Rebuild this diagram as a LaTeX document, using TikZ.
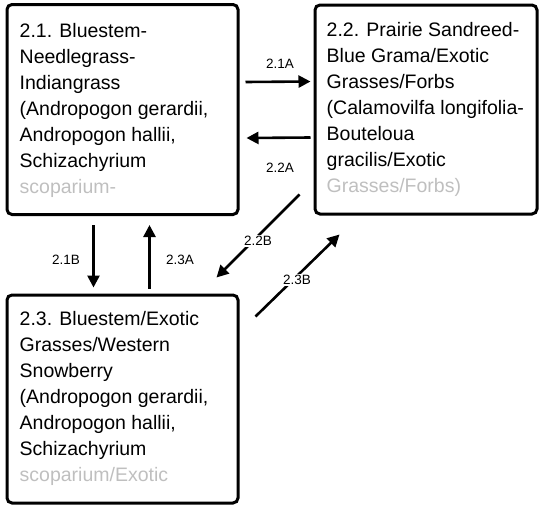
\documentclass[tikz,border=0pt]{standalone}
\usepackage{fontspec}
\setmainfont{Liberation Sans}
\usetikzlibrary{arrows.meta,calc}
\begin{document}
\begin{tikzpicture}[x=1pt,y=-1pt,
  box/.style={draw,line width=3pt,rounded corners=5pt,inner sep=0pt},
  boxtext/.style={anchor=base west,align=left,inner sep=0pt,font=\fontsize{19.5}{26}\selectfont},
  arr/.style={line width=2.6pt,-{Triangle[length=12pt,width=12pt]}},
  lab/.style={font=\fontsize{13.5}{16}\selectfont,inner sep=1.5pt,fill=white}
]
\useasboundingbox (0,0) rectangle (543,506);
\node[box,minimum width=231pt,minimum height=210pt] (b21) at (122.5,109.5) {};
\node[box,minimum width=222pt,minimum height=209pt] (b22) at (426,109.5) {};
\node[box,minimum width=231pt,minimum height=208pt] (b23) at (122.5,399) {};

\node[boxtext] (t21) at ($(b21.north west)+(14,190)$) {2.1. Bluestem-\\Needlegrass-\\Indiangrass\\(Andropogon gerardii,\\Andropogon hallii,\\Schizachyrium\\\textcolor{black!25}{scoparium-}};
\node[boxtext] (t22) at ($(b22.north west)+(13,189)$) {2.2. Prairie Sandreed-\\Blue Grama/Exotic\\Grasses/Forbs\\(Calamovilfa longifolia-\\Bouteloua\\gracilis/Exotic\\\textcolor{black!25}{Grasses/Forbs)}};
\node[boxtext] (t23) at ($(b23.north west)+(14,188)$) {2.3. Bluestem/Exotic\\Grasses/Western\\Snowberry\\(Andropogon gerardii,\\Andropogon hallii,\\Schizachyrium\\\textcolor{black!25}{scoparium/Exotic}};

\draw[arr] ($(b21.north east)+(6,79)$) -- ($(b22.north west)+(-3,78)$);
\node[lab] (l21a) at (280,64) {2.1A};
\draw[arr] ($(b22.north west)+(-3,134)$) -- ($(b21.north east)+(7,135)$);
\node[lab] (l22a) at (280,168) {2.2A};
\draw[arr] ($(b21.south west)+(88,9)$) -- ($(b23.north west)+(88,-6)$);
\node[lab] (l21b) at (66,260) {2.1B};
\draw[arr] ($(b23.north west)+(144,-5)$) -- ($(b21.south west)+(144,9)$);
\node[lab] (l23a) at (180,260) {2.3A};
\draw[arr] ($(b22.south west)+(-14,-21)$) -- ($(b23.north east)+(-23,-16)$);
\node[lab] (l22b) at (258,241) {2.2B};
\draw[arr] ($(b23.north east)+(16,23)$) -- ($(b22.south west)+(26,19)$);
\node[lab] (l23b) at (297,280) {2.3B};
\end{tikzpicture}
\end{document}
